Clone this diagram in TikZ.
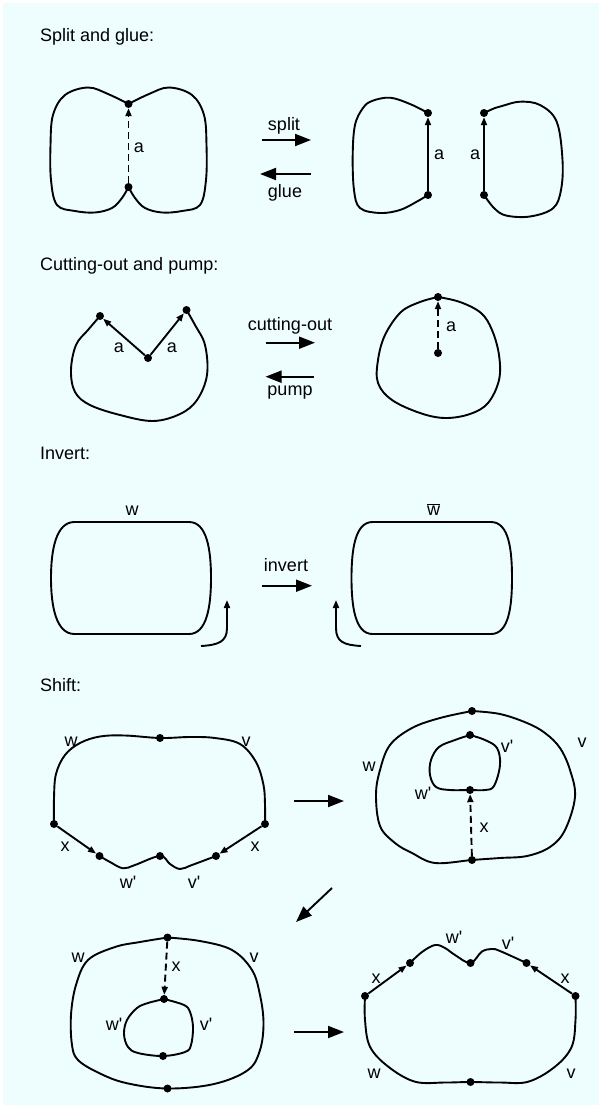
\documentclass[tikz,border=0pt]{standalone}
\usepackage{fontspec}
\setmainfont{Liberation Sans}[Ligatures=TeXOff]
\usetikzlibrary{arrows.meta}
\definecolor{bgc}{RGB}{238,254,255}
\begin{document}
\begin{tikzpicture}[x=1pt,y=-1pt,
 curve/.style={line width=1.9pt, line join=round, line cap=round},
 dot/.style={circle, fill=black, inner sep=0pt, minimum size=8pt},
 lab/.style={anchor=base, inner sep=0pt, font=\fontsize{18}{21}\selectfont},
 ttl/.style={anchor=base west, inner sep=0pt, font=\fontsize{18}{21}\selectfont},
 bigarr/.style={line width=1.9pt, -{Triangle[length=16pt,width=12pt]}},
 smallarr/.style={line width=1.9pt, -{Triangle[length=8pt,width=6pt]}},
 dasharr/.style={smallarr, dash pattern=on 7pt off 4pt},
]
\useasboundingbox (0,0) rectangle (599,1108);
\fill[bgc] (3,3) rectangle (599,1105);

% ---------------- Split and glue ----------------
\node[ttl] (t1) at (40,42) {Split and glue:};
\draw[curve] plot[smooth, tension=0.6] coordinates {(128.5,104) (108,94) (88,87.5) (65,95) (53,115) (50.5,145) (51,180) (57,205) (75,211) (95,212.5) (112,208) (122,198) (128.5,187)};
\draw[curve] plot[smooth, tension=0.6] coordinates {(128.5,104) (149,94) (169,87.5) (192,95) (204,115) (206.5,145) (206,180) (200,205) (182,211) (162,212.5) (145,208) (135,198) (128.5,187)};
\node[dot] (l1t) at (128.5,104) {};
\node[dot] (l1b) at (128.5,187) {};
\draw[dasharr] (l1b) -- (l1t);
\node[lab] (l1a) at (139,152.7) {a};

\coordinate (sp1) at (262,140); \coordinate (sp2) at (311,140);
\draw[bigarr] (sp1) -- (sp2);
\node[lab] (lsplit) at (284,130) {split};
\coordinate (gl1) at (311,174); \coordinate (gl2) at (260,174);
\draw[bigarr] (gl1) -- (gl2);
\node[lab] (lglue) at (285,197) {glue};

\draw[curve] plot[smooth, tension=0.6] coordinates {(428,113) (410,104) (390,97.7) (372,101) (363,108) (355,125) (352.7,155) (354,190) (360,208) (380,213) (400,210) (416.7,201.7) (428,195)};
\draw[curve] plot[smooth, tension=0.6] coordinates {(484,113) (495,108) (503,105.7) (520,101.7) (540,105) (556.7,121.7) (562.5,160) (561,190) (553,208.3) (530,216.5) (506,215.5) (494,208) (484,195)};
\node[dot] (r1at) at (428,113) {};
\node[dot] (r1ab) at (428,195) {};
\node[dot] (r1bt) at (484,113) {};
\node[dot] (r1bb) at (484,195) {};
\draw[smallarr] (r1ab) -- (r1at);
\draw[smallarr] (r1bb) -- (r1bt);
\node[lab] (r1la) at (439,159.7) {a};
\node[lab] (r1lb) at (475,159.7) {a};

% ---------------- Cutting-out and pump ----------------
\node[ttl] (t2) at (40,270) {Cutting-out and pump:};
\draw[curve] plot[smooth, tension=0.6] coordinates {(100,316) (88,330) (76,345) (71,370) (75,392) (90,405) (120,415) (153,421) (180,414) (197,400) (207,375) (205,345) (195,325) (186.5,310)};
\node[dot] (l2a) at (100,316) {};
\node[dot] (l2c) at (186.5,310) {};
\node[dot] (l2m) at (148,358) {};
\draw[smallarr] (l2m) -- (l2a);
\draw[smallarr] (l2m) -- (l2c);
\node[lab] (l2la) at (119,352) {a};
\node[lab] (l2lb) at (172,352) {a};

\coordinate (cu1) at (265.5,342.7); \coordinate (cu2) at (315,342.7);
\draw[bigarr] (cu1) -- (cu2);
\node[lab] (lcut) at (290,330) {cutting-out};
\coordinate (pu1) at (314,376.7); \coordinate (pu2) at (265.5,376.7);
\draw[bigarr] (pu1) -- (pu2);
\node[lab] (lpump) at (290,395.7) {pump};

\draw[curve] plot[smooth, tension=0.6] coordinates {(438,297) (420,302) (401,312) (385,335) (378,360) (378,383) (392,400) (420,413) (445,418) (470,414) (488,403) (499,380) (499,355) (492,330) (481,313) (460,302) (438,297)};
\node[dot] (r2q) at (438,297) {};
\node[dot] (r2p) at (438,353) {};
\draw[dasharr] (r2p) -- (r2q);
\node[lab] (r2la) at (451,331.5) {a};

% ---------------- Invert ----------------
\node[ttl] (t3) at (40,459) {Invert:};
\draw[curve] (74.5,522) -- (189,522) .. controls (207,522) and (211,550) .. (211,578) .. controls (211,606) and (207,634) .. (189,634) -- (74.5,634) .. controls (56,634) and (51,606) .. (51,578) .. controls (51,550) and (56,522) .. cycle;
\node[lab] (l3w) at (132,515.5) {w};
\coordinate (iv1) at (261.6,585.7); \coordinate (iv2) at (312,585.7);
\draw[bigarr] (iv1) -- (iv2);
\node[lab] (linv) at (286,571.7) {invert};
\draw[curve] (372.5,522) -- (491,522) .. controls (509,522) and (512,550) .. (512,578) .. controls (512,606) and (509,634) .. (491,634) -- (372.5,634) .. controls (355,634) and (351.5,606) .. (351.5,578) .. controls (351.5,550) and (355,522) .. cycle;
\node[lab] (r3w) at (433.5,515.5) {$\overline{\hbox{w}}$};
\coordinate (ca1) at (201,646); \coordinate (ca2) at (227,600);
\draw[smallarr] (ca1) .. controls (218,645) and (227,642) .. (227,628) -- (ca2);
\coordinate (cb1) at (361,646); \coordinate (cb2) at (336,600);
\draw[smallarr] (cb1) .. controls (344,645) and (336,642) .. (336,628) -- (cb2);

% ---------------- Shift ----------------
\node[ttl] (t4) at (40,691.7) {Shift:};
% S1
\draw[curve] plot[smooth, tension=0.6] coordinates {(54,824) (54,798) (56,774) (65,755) (80,743) (100,736.5) (125,735.5) (160,738) (190,737) (215,738) (240,744) (256,762) (263.5,785) (265,805) (265,824)};
\draw[curve] plot[smooth, tension=0.6] coordinates {(99.5,856) (110,862) (123,868.3) (135,865) (160,856) (170,864) (180,869) (192,865) (216,856)};
\node[dot] (s1t) at (160,738) {};
\node[dot] (s1l) at (54,824) {};
\node[dot] (s1r) at (265,824) {};
\node[dot] (s1bl) at (99.5,856) {};
\node[dot] (s1bm) at (160,856) {};
\node[dot] (s1br) at (216,856) {};
\draw[smallarr] (s1l) -- (s1bl);
\draw[smallarr] (s1r) -- (s1br);
\node[lab] (s1w) at (71,746.5) {w};
\node[lab] (s1v) at (246,746.5) {v};
\node[lab] (s1x1) at (65,851) {x};
\node[lab] (s1x2) at (255,851) {x};
\node[lab] (s1wp) at (128,888) {w'};
\node[lab] (s1vp) at (194,888) {v'};
\coordinate (sh1) at (294,801); \coordinate (sh2) at (344,801);
\draw[bigarr] (sh1) -- (sh2);
% S2
\draw[curve] plot[smooth, tension=0.6] coordinates {(472,711) (440,718) (412,728) (390,745) (380,770) (376,795) (380,826) (395,843) (412,853) (435,863) (472,860) (500,858) (527,856) (550,847) (565,830) (575,797) (570,770) (560,748) (545,733) (527,723) (500,714) (472,711)};
\draw[curve] plot[smooth, tension=0.6] coordinates {(470,735) (455,740) (439,747) (431,760) (430,775) (436,787) (450,790) (470,790) (485,790) (494,786) (500,765) (497,748) (485,740) (470,735)};
\node[dot] (s2o1) at (472,711) {};
\node[dot] (s2o2) at (472,860) {};
\node[dot] (s2i1) at (470,735) {};
\node[dot] (s2i2) at (470,790) {};
\draw[dasharr] (s2o2) -- (s2i2);
\node[lab] (s2w) at (369,771.5) {w};
\node[lab] (s2v) at (582,747.5) {v};
\node[lab] (s2vp) at (507,752.5) {v'};
\node[lab] (s2wp) at (423,799.5) {w'};
\node[lab] (s2x) at (484,832.5) {x};
\coordinate (dg1) at (332,888); \coordinate (dg2) at (296,922);
\draw[bigarr] (dg1) -- (dg2);
% S3
\draw[curve] plot[smooth, tension=0.6] coordinates {(167.5,937.5) (140,942) (115,947) (88,960) (76,985) (71,1015) (72,1045) (78,1060) (99,1073) (126,1083) (167.5,1088.5) (214,1084) (248,1070) (260,1050) (263.5,1023) (260,995) (252,970) (232,950) (200,941) (167.5,937.5)};
\draw[curve] plot[smooth, tension=0.6] coordinates {(164,999) (148,1003) (137,1008) (127,1020) (124,1034) (128,1047) (138,1053) (163,1056) (185,1052) (191,1045) (193,1027) (190,1012) (184,1005) (164,999)};
\node[dot] (s3o1) at (167.5,937.5) {};
\node[dot] (s3o2) at (167.5,1088.5) {};
\node[dot] (s3i1) at (164,999) {};
\node[dot] (s3i2) at (163,1056) {};
\draw[dasharr] (s3o1) -- (s3i1);
\node[lab] (s3w) at (78,962.5) {w};
\node[lab] (s3v) at (254,962.5) {v};
\node[lab] (s3x) at (176,971.5) {x};
\node[lab] (s3wp) at (114,1030.5) {w'};
\node[lab] (s3vp) at (206,1030.5) {v'};
\coordinate (sh3) at (294,1032); \coordinate (sh4) at (344,1032);
\draw[bigarr] (sh3) -- (sh4);
% S4
\draw[curve] plot[smooth, tension=0.6] coordinates {(410,963) (422,952) (435,945) (445,948) (455,955) (470.5,963) (481.7,951.7) (491.7,949) (500,951) (526.5,963)};
\draw[curve] plot[smooth, tension=0.6] coordinates {(365,996) (365,1020) (370,1046.7) (388.3,1066.7) (415,1081.7) (445,1082.5) (470.5,1082) (500,1082.5) (528.3,1081.7) (555,1066.7) (571.7,1046.7) (575.5,1020) (575.5,996)};
\node[dot] (s4a) at (365,996) {};
\node[dot] (s4b) at (410,963) {};
\node[dot] (s4c) at (470.5,963) {};
\node[dot] (s4d) at (526.5,963) {};
\node[dot] (s4e) at (575.5,996) {};
\node[dot] (s4f) at (470.5,1082) {};
\draw[smallarr] (s4a) -- (s4b);
\draw[smallarr] (s4e) -- (s4d);
\node[lab] (s4x1) at (376,983) {x};
\node[lab] (s4x2) at (565,983) {x};
\node[lab] (s4wp) at (454,943.5) {w'};
\node[lab] (s4vp) at (508,949.5) {v'};
\node[lab] (s4w) at (374,1078) {w};
\node[lab] (s4v) at (571,1078) {v};
\end{tikzpicture}
\end{document}
